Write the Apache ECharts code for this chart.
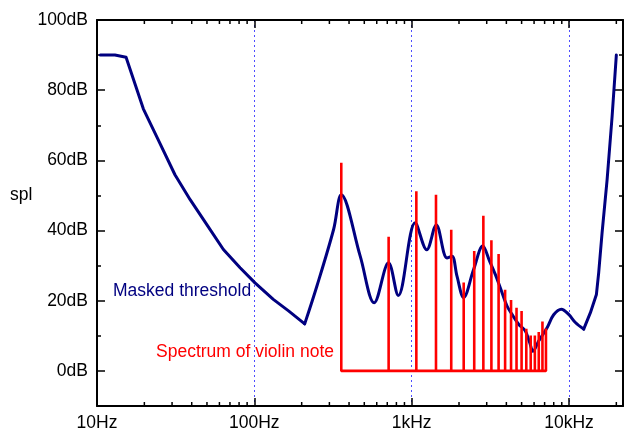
<!DOCTYPE html>
<html>
<head>
<meta charset="utf-8">
<title>Masked threshold and violin spectrum</title>
<script src="https://cdn.jsdelivr.net/npm/echarts@6/dist/echarts.min.js"></script>
<style>
  html, body { margin: 0; padding: 0; background: #fff; }
  #chart { width: 625px; height: 432px; }
</style>
</head>
<body>
<div id="chart"></div>
<script>
// Masked threshold curve (frequency in Hz, level in dB SPL)
const maskFreq = [10.5, 13, 15.3, 19.7, 24.3, 31.3, 39.1, 49.9, 63.6, 81.2, 101, 132, 165, 209,
  250, 319, 357, 471, 578, 713, 822, 1054, 1247, 1434, 1677, 1805, 1942, 2139, 2476, 2834,
  3130, 3402, 3660, 4039, 4345, 4786, 5280, 5623, 5908, 6417, 7257, 7991, 8946, 9957, 10984,
  12405, 13683, 14941, 15452, 16238, 17476, 18800, 20000];
const maskDb = [90, 90, 89.4, 74.7, 66.2, 55.9, 48.8, 41.7, 34.6, 29.4, 25.1, 20.4, 17.1, 13.4,
  24.2, 40.3, 50.2, 32.7, 19.4, 30.8, 21.5, 42.2, 34.5, 41.6, 32.2, 32.7, 27.0, 20.9, 28.9, 35.6,
  31.3, 27.5, 23.7, 18.5, 16.1, 13.3, 11.4, 8.1, 5.6, 8.5, 12.3, 16.0, 17.6, 16.1, 13.8,
  11.9, 16.6, 21.8, 28.0, 39.4, 54.5, 72.5, 90];

// Harmonics of the violin note (Hz) and their levels (dB)
const harmFreq = [357, 714, 1071, 1428, 1785, 2142, 2499, 2856, 3213, 3570, 3927, 4284, 4641,
  4998, 5355, 5712, 6069, 6426, 6783, 7140];
const harmDb = [59.3, 38.2, 51.2, 50.2, 40.2, 25.2, 34.2, 44.2, 37.2, 33.3, 23.1, 20.2, 18.0,
  17.1, 12.0, 10.1, 10.1, 11.1, 14.1, 12.1];

// Axis ticks and labels
const xTickValues = [10, 100, 1000, 10000];
const xTickLabels = ['10Hz', '100Hz', '1kHz', '10kHz'];
const xMinorTicks = [20, 30, 40, 50, 60, 70, 80, 90, 200, 300, 400, 500, 600, 700, 800, 900,
  2000, 3000, 4000, 5000, 6000, 7000, 8000, 9000, 20000];
const yMajorTicks = [0, 20, 40, 60, 80, 100];
const yMinorTicks = [10, 30, 50, 70, 90];

const FONT = '"Liberation Sans", Arial, Helvetica, sans-serif';
const FS = 17.5;
const X_MIN = 10, X_MAX = 22050, Y_MIN = -10, Y_MAX = 100;

// corner points of the threshold curve that stay sharp
const cornerA = maskFreq.indexOf(209);
const cornerB = maskFreq.indexOf(12405);
const pairs = (a, b) => a.map((v, i) => [v, b[i]]);
const maskPts = pairs(maskFreq, maskDb);

// violin spectrum: baseline at 0 dB with a spike at every harmonic
const spectrumPts = [];
harmFreq.forEach((f, i) => {
  spectrumPts.push([f, 0], [f, harmDb[i]], [f, 0]);
});

function xLabel(v) {
  for (let i = 0; i < xTickValues.length; i++) {
    if (Math.abs(Math.log10(v) - Math.log10(xTickValues[i])) < 1e-6) return xTickLabels[i];
  }
  return '';
}

const blackLine = { show: true, onZero: false, lineStyle: { color: '#000', width: 2 } };

function yAxisDef(position, ticks, len, withLabels) {
  return {
    type: 'value', min: Y_MIN, max: Y_MAX, position: position,
    axisLine: withLabels !== null ? blackLine : { show: false },
    axisTick: { show: true, inside: true, length: len, customValues: ticks,
      lineStyle: { color: '#000', width: 1.5 } },
    axisLabel: withLabels ? { show: true, customValues: ticks, formatter: v => v + 'dB',
      margin: 9, fontSize: FS, fontFamily: FONT, color: '#000' } : { show: false },
    splitLine: { show: false }
  };
}

const chart = echarts.init(document.getElementById('chart'), null, { renderer: 'canvas' });

chart.setOption({
  animation: false,
  backgroundColor: '#fff',
  grid: { left: 97, right: 2, top: 20, bottom: 25.3, containLabel: false },
  xAxis: [
    {
      type: 'log', logBase: 10, min: X_MIN, max: X_MAX, position: 'bottom',
      axisLine: blackLine,
      axisTick: { show: true, inside: true, length: 8, lineStyle: { color: '#000', width: 1.5 } },
      axisLabel: { show: true, formatter: xLabel, margin: 8, fontSize: FS, fontFamily: FONT,
        color: '#000', showMaxLabel: false },
      splitLine: { show: true, lineStyle: { color: '#4d4dff', width: 1, type: [2, 3] } }
    },
    {
      type: 'log', logBase: 10, min: X_MIN, max: X_MAX, position: 'top',
      axisLine: blackLine,
      axisTick: { show: true, inside: true, length: 8, lineStyle: { color: '#000', width: 1.5 } },
      axisLabel: { show: false },
      splitLine: { show: false }
    }
  ],
  yAxis: [
    yAxisDef('left', yMajorTicks, 8, true),
    yAxisDef('right', yMajorTicks, 8, false),
    yAxisDef('left', yMinorTicks, 4, null),
    yAxisDef('right', yMinorTicks, 4, null)
  ],
  graphic: [
    { type: 'text', style: { text: 'spl', x: 10, y: 195, font: FS + 'px ' + FONT,
      fill: '#000', align: 'left', verticalAlign: 'middle' } },
    { type: 'text', style: { text: 'Masked threshold', x: 113, y: 291, font: FS + 'px ' + FONT,
      fill: '#000080', align: 'left', verticalAlign: 'middle' } },
    { type: 'text', style: { text: 'Spectrum of violin note', x: 156, y: 352, font: FS + 'px ' + FONT,
      fill: '#ff0000', align: 'left', verticalAlign: 'middle' } }
  ],
  series: [
    {
      // minor decade ticks on the bottom and top frame
      type: 'custom', xAxisIndex: 0, yAxisIndex: 0, silent: true, z: 5,
      data: xMinorTicks.map(v => [v, Y_MIN]),
      renderItem: function (params, api) {
        const v = api.value(0);
        const b = api.coord([v, Y_MIN]);
        const t = api.coord([v, Y_MAX]);
        const st = { stroke: '#000', lineWidth: 1.5 };
        return {
          type: 'group',
          children: [
            { type: 'line', shape: { x1: b[0], y1: b[1], x2: b[0], y2: b[1] - 4 }, style: st },
            { type: 'line', shape: { x1: t[0], y1: t[1], x2: t[0], y2: t[1] + 4 }, style: st }
          ]
        };
      }
    },
    {
      type: 'line', name: 'Masked threshold', showSymbol: false, symbol: 'none', z: 3,
      data: maskPts.slice(0, cornerA + 1),
      lineStyle: { color: '#000080', width: 3, cap: 'round', join: 'round' }
    },
    {
      type: 'line', name: 'Masked threshold', showSymbol: false, symbol: 'none', z: 3, smooth: 0.35,
      data: maskPts.slice(cornerA, cornerB + 1),
      lineStyle: { color: '#000080', width: 3, cap: 'round', join: 'round' }
    },
    {
      type: 'line', name: 'Masked threshold', showSymbol: false, symbol: 'none', z: 3,
      data: maskPts.slice(cornerB),
      lineStyle: { color: '#000080', width: 3, cap: 'round', join: 'round' }
    },
    {
      type: 'line', name: 'Spectrum of violin note', showSymbol: false, symbol: 'none', z: 4,
      data: spectrumPts,
      lineStyle: { color: '#ff0000', width: 2.6, join: 'bevel' }
    }
  ]
});
</script>
</body>
</html>
